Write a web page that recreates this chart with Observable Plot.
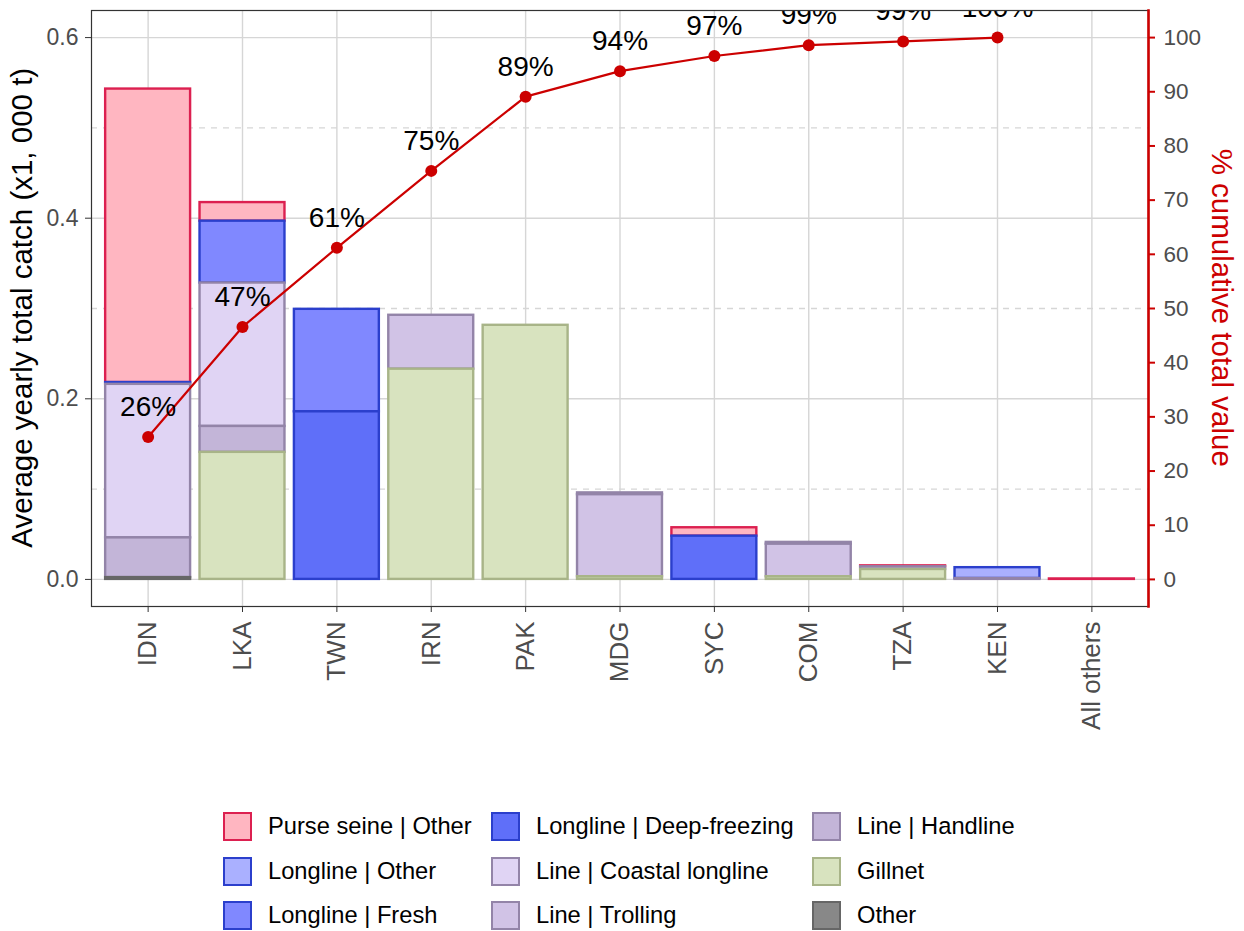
<!DOCTYPE html>
<html>
<head>
<meta charset="utf-8">
<script src="https://cdn.jsdelivr.net/npm/d3@7"></script>
<script src="https://cdn.jsdelivr.net/npm/@observablehq/plot@0.6"></script>
<style>
  body { margin: 0; background: #fff; font-family: "Liberation Sans", Arial, sans-serif; }
  #wrap { position: relative; width: 1244px; height: 931px; overflow: hidden; }
  #plot { position: absolute; left: 0; top: 0; }
  .ytitle { position: absolute; white-space: nowrap; font-size: 29.5px; line-height: 1; }
  .legend { position: absolute; left: 0; top: 0; width: 1244px; }
  .item { position: absolute; display: flex; align-items: center; height: 30px; font-size: 23.7px; color: #000; white-space: nowrap; }
  .key { width: 25px; height: 25px; border-style: solid; border-width: 2.5px; margin-right: 16px; box-sizing: content-box; }
</style>
</head>
<body>
<div id="wrap">
  <div id="plot"></div>
</div>
<script>
// Countries on the x axis, in Pareto order
const countries = ["IDN", "LKA", "TWN", "IRN", "PAK", "MDG", "SYC", "COM", "TZA", "KEN", "All others"];

// Fishery groups (legend order; first group sits on top of each stack)
const gears = [
  "Purse seine | Other", "Longline | Other", "Longline | Fresh",
  "Longline | Deep-freezing", "Line | Coastal longline", "Line | Trolling",
  "Line | Handline", "Gillnet", "Other"
];
const gearFill = ["#FFB6C1", "#AAB0FF", "#8088FF", "#5F6FF9", "#E0D4F4", "#D1C3E6", "#C3B5D8", "#D8E3BF", "#888888"];
const gearStroke = ["#DC2050", "#2B3FCC", "#2B3FCC", "#2B3FCC", "#9384A8", "#9384A8", "#9384A8", "#A8B488", "#666666"];

// Average yearly catch by fishery group and country (x1,000 t)
const purseSeineOther   = [0.325, 0.0206, 0,      0,      0,      0,      0.0093, 0,     0.001, 0,     0.0005];
const longlineOther     = [0,     0,      0,      0,      0,      0,      0,      0,     0,     0.012, 0];
const longlineFresh     = [0.002, 0.0685, 0.1135, 0,      0,      0,      0,      0,     0,     0,     0];
const longlineDeep      = [0,     0,      0.1856, 0,      0,      0,      0.0479, 0,     0,     0,     0];
const lineCoastal       = [0.170, 0.1588, 0,      0,      0,      0.002,  0,      0.002, 0,     0,     0];
const lineTrolling      = [0,     0,      0,      0.0597, 0,      0.0908, 0,      0.036, 0,     0,     0];
const lineHandline      = [0.044, 0.0287, 0,      0,      0,      0,      0,      0,     0.003, 0.001, 0];
const gillnet           = [0,     0.1407, 0,      0.2328, 0.2814, 0.003,  0,      0.003, 0.011, 0,     0];
const otherGear         = [0.002, 0,      0,      0,      0,      0,      0,      0,     0,     0,     0];

// Cumulative share of the total (%), one per country (none for "All others")
const cumPct = [26.3, 46.6, 61.2, 75.4, 89.1, 93.8, 96.6, 98.6, 99.3, 100, null];

// Axis ticks
const catchTicks = [0, 0.2, 0.4, 0.6];
const catchMinorTicks = [0.1, 0.3, 0.5];
const pctTicks = [0, 10, 20, 30, 40, 50, 60, 70, 80, 90, 100];

// Secondary axis: 100% sits at 0.6 on the catch axis
const pctToCatch = 0.6 / 100;

const seriesByGear = [purseSeineOther, longlineOther, longlineFresh, longlineDeep,
  lineCoastal, lineTrolling, lineHandline, gillnet, otherGear];

const rows = [];
gears.forEach((g, gi) => {
  seriesByGear[gi].forEach((v, ci) => {
    if (v > 0) rows.push({country: countries[ci], gear: g, value: v, fill: gearFill[gi], stroke: gearStroke[gi]});
  });
});
const stackOrder = gears.slice().reverse(); // bottom to top

const pareto = countries
  .map((c, i) => ({country: c, pct: cumPct[i]}))
  .filter(d => d.pct != null);

const red = "#CC0000";
const gridColor = "#D6D6D6";

const chart = Plot.plot({
  width: 1244,
  height: 790,
  marginLeft: 91,
  marginRight: 96,
  marginTop: 10,
  marginBottom: 184,
  style: {fontFamily: "'Liberation Sans', Arial, sans-serif", background: "#fff", overflow: "visible"},
  x: {domain: countries, paddingInner: 0.1, paddingOuter: 0.15, round: false, axis: null},
  y: {domain: [-0.03, 0.63], axis: null},
  marks: [
    Plot.gridY(catchMinorTicks, {stroke: gridColor, strokeOpacity: 1, strokeWidth: 1.4, strokeDasharray: "6,6"}),
    Plot.gridY(catchTicks, {stroke: gridColor, strokeOpacity: 1, strokeWidth: 1.4}),
    Plot.gridX(countries, {stroke: gridColor, strokeOpacity: 1, strokeWidth: 1.4}),
    Plot.barY(rows, {
      x: "country", y: "value", z: "gear", order: stackOrder,
      fill: "fill", stroke: "stroke", strokeWidth: 2.4, inset: 0
    }),
    Plot.line(pareto, {x: "country", y: d => d.pct * pctToCatch, stroke: red, strokeWidth: 2.2}),
    Plot.dot(pareto, {x: "country", y: d => d.pct * pctToCatch, r: 6, fill: red, stroke: "none"}),
    // value labels are clipped to the panel, as the top ones run past its edge
    Plot.text(pareto, {
      x: "country", y: d => d.pct * pctToCatch,
      text: d => `${Math.round(d.pct)}%`, dy: -30, fontSize: 28, fill: "#000", clip: true
    }),
    Plot.frame({stroke: "#333", strokeWidth: 1.2}),
    Plot.frame({anchor: "right", stroke: red, strokeWidth: 2.6}),
    Plot.axisY(catchTicks, {
      tickFormat: d3.format(".1f"), tickSize: 6, tickPadding: 7, fontSize: 23,
      color: "#333", label: null
    }),
    Plot.axisY(pctTicks.map(p => p * pctToCatch), {
      anchor: "right", tickFormat: d => String(Math.round(d / pctToCatch)),
      tickSize: 6, tickPadding: 9, fontSize: 22.5, color: red, strokeWidth: 2, label: null
    }),
    Plot.axisX({tickRotate: -90, tickSize: 6, tickPadding: 9, fontSize: 26, color: "#333", label: null})
  ]
});

const wrap = document.getElementById("wrap");
document.getElementById("plot").appendChild(chart);

// tick label text a touch lighter than the tick marks
d3.select(chart).selectAll("g[aria-label='y-axis tick label'] text, g[aria-label='x-axis tick label'] text")
  .attr("fill", "#4D4D4D");

// Axis titles
const leftTitle = document.createElement("div");
leftTitle.className = "ytitle";
leftTitle.textContent = "Average yearly total catch (x1, 000 t)";
leftTitle.style.color = "#000";
wrap.appendChild(leftTitle);
const lw = leftTitle.offsetWidth, lh = leftTitle.offsetHeight;
leftTitle.style.left = (22 - lw / 2) + "px";
leftTitle.style.top = (308 - lh / 2) + "px";
leftTitle.style.transform = "rotate(-90deg)";

const rightTitle = document.createElement("div");
rightTitle.className = "ytitle";
rightTitle.textContent = "% cumulative total value";
rightTitle.style.color = red;
wrap.appendChild(rightTitle);
const rw = rightTitle.offsetWidth, rh = rightTitle.offsetHeight;
rightTitle.style.left = (1222 - rw / 2) + "px";
rightTitle.style.top = (308 - rh / 2) + "px";
rightTitle.style.transform = "rotate(90deg)";

// Legend: three columns, filled column by column
const legend = document.createElement("div");
legend.className = "legend";
const colX = [223, 491, 812];
const rowY = [826, 871, 915];
gears.forEach((g, i) => {
  const col = Math.floor(i / 3), row = i % 3;
  const item = document.createElement("div");
  item.className = "item";
  item.style.left = colX[col] + "px";
  item.style.top = (rowY[row] - 15) + "px";
  const key = document.createElement("span");
  key.className = "key";
  key.style.background = gearFill[i];
  key.style.borderColor = gearStroke[i];
  const label = document.createElement("span");
  label.textContent = g;
  item.appendChild(key);
  item.appendChild(label);
  legend.appendChild(item);
});
wrap.appendChild(legend);
</script>
</body>
</html>
